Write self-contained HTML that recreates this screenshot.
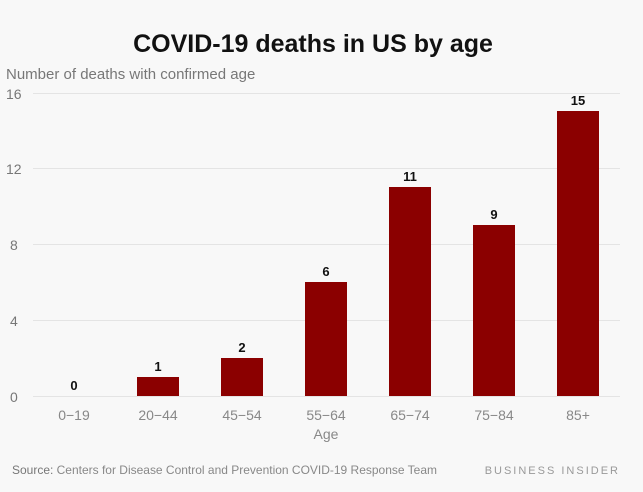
<!DOCTYPE html>
<html><head><style>
html,body{margin:0;padding:0;background:#f8f8f8;}
svg{display:block;font-family:"Liberation Sans",sans-serif;}
</style></head><body>
<svg width="643" height="492" viewBox="0 0 643 492">
<rect width="643" height="492" fill="#f8f8f8"/>
<text x="313" y="52" text-anchor="middle" font-size="25" font-weight="bold" fill="#111">COVID-19 deaths in US by age</text>
<text x="6" y="79" font-size="15" fill="#777">Number of deaths with confirmed age</text>
<g stroke="#e4e4e4" stroke-width="1">
<line x1="33" x2="620" y1="93.5" y2="93.5"/>
<line x1="33" x2="620" y1="168.5" y2="168.5"/>
<line x1="33" x2="620" y1="244.5" y2="244.5"/>
<line x1="33" x2="620" y1="320.5" y2="320.5"/>
<line x1="33" x2="620" y1="396.5" y2="396.5"/>
</g>
<g font-size="14" fill="#777">
<text x="6" y="99">16</text>
<text x="6" y="174">12</text>
<text x="10" y="250">8</text>
<text x="10" y="326">4</text>
<text x="10" y="402">0</text>
</g>
<g fill="#8b0000">
<rect x="137" y="377" width="42" height="19"/>
<rect x="221" y="358" width="42" height="38"/>
<rect x="305" y="282" width="42" height="114"/>
<rect x="389" y="187" width="42" height="209"/>
<rect x="473" y="225" width="42" height="171"/>
<rect x="557" y="111" width="42" height="285"/>
</g>
<g font-size="13" font-weight="bold" fill="#111" text-anchor="middle">
<text x="74" y="390">0</text>
<text x="158" y="371">1</text>
<text x="242" y="352">2</text>
<text x="326" y="276">6</text>
<text x="410" y="181">11</text>
<text x="494" y="219">9</text>
<text x="578" y="105">15</text>
</g>
<g font-size="14" fill="#888" text-anchor="middle">
<text x="74" y="420">0−19</text>
<text x="158" y="420">20−44</text>
<text x="242" y="420">45−54</text>
<text x="326" y="420">55−64</text>
<text x="410" y="420">65−74</text>
<text x="494" y="420">75−84</text>
<text x="578" y="420">85+</text>
<text x="326" y="439">Age</text>
</g>
<text x="12" y="474" font-size="12" fill="#888" textLength="425" lengthAdjust="spacingAndGlyphs"><tspan fill="#777">Source:</tspan> Centers for Disease Control and Prevention COVID-19 Response Team</text>
<text x="620" y="474" font-size="11" fill="#999" text-anchor="end" letter-spacing="2">BUSINESS INSIDER</text>
</svg>
</body></html>
